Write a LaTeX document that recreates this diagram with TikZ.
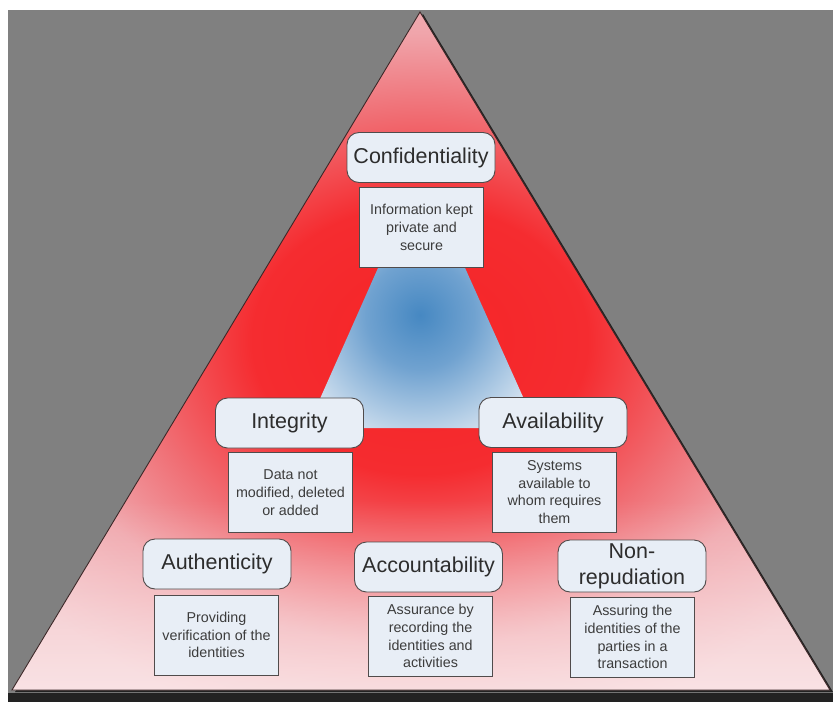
\documentclass[tikz,border=0pt]{standalone}
\usepackage{fontspec}
\setmainfont{Liberation Sans}
\usetikzlibrary{fadings}

\definecolor{bggray}{RGB}{128,128,128}
\definecolor{banddark}{RGB}{34,34,34}
\definecolor{edgedark}{RGB}{60,40,40}
\definecolor{boxfill}{RGB}{232,238,246}
\definecolor{boxline}{RGB}{80,75,75}
\definecolor{titletext}{RGB}{45,45,45}
\definecolor{desctext}{RGB}{60,60,60}
% stops of the red burst around the core
\definecolor{redA}{RGB}{246,36,38}
\definecolor{redB}{RGB}{245,44,48}
\definecolor{redC}{RGB}{240,112,118}
\definecolor{redD}{RGB}{240,165,171}
\definecolor{redE}{RGB}{242,188,193}
% stops of the blue core
\definecolor{bluA}{RGB}{70,136,194}
\definecolor{bluB}{RGB}{112,162,208}
\definecolor{bluC}{RGB}{180,206,230}
\definecolor{bluD}{RGB}{226,234,243}

% the shaded box maps -25bp..25bp onto the filled rectangle
\pgfdeclareradialshading{redburst}{\pgfpoint{0bp}{0bp}}{color(0bp)=(redA); color(7bp)=(redB); color(12bp)=(redC); color(16bp)=(redD); color(21bp)=(redE); color(50bp)=(redE)}
\pgfdeclareradialshading{blueburst}{\pgfpoint{0bp}{0bp}}{color(0bp)=(bluA); color(4.5bp)=(bluB); color(9bp)=(bluC); color(12bp)=(bluD); color(50bp)=(bluD)}
\tikzfading[name=fadebottom, top color=transparent!100, bottom color=transparent!0]

\begin{document}
\begin{tikzpicture}[x=1pt,y=-1pt,
  titlebox/.style={draw=boxline, line width=0.9pt, fill=boxfill, rounded corners=12pt,
     minimum width=148pt, minimum height=50pt, inner sep=0pt, align=center,
     text=titletext, font=\fontsize{21.5}{26}\selectfont},
  descbox/.style={draw=boxline, line width=0.8pt, fill=boxfill,
     minimum width=124pt, minimum height=80pt, inner sep=0pt, align=center,
     text=desctext, font=\fontsize{14.3}{17.8}\selectfont}]
\useasboundingbox (0,0) rectangle (833,702);
\fill[white] (0,0) rectangle (833,702);
\fill[bggray] (8,10) rectangle (833,693);
\fill[banddark] (8,693) rectangle (833,702);

% outer pyramid
\coordinate (apex) at (420,12);
\coordinate (bl) at (12,690);
\coordinate (br) at (830,690);
\fill[banddark] ([shift={(3,2)}]apex) -- ([shift={(3,2)}]bl) -- ([shift={(3,2)}]br) -- cycle;
\begin{scope}
  \clip (apex) -- (bl) -- (br) -- cycle;
  \shade[shading=redburst, overlay] (-180,-140) rectangle (1020,820);
  \fill[white, fill opacity=0.78, path fading=fadebottom, overlay] (0,500) rectangle (840,760);
\end{scope}
\draw[edgedark, line width=0.9pt] (apex) -- (bl) -- (br) -- cycle;

% blue core (its top is hidden behind the first description)
\coordinate (itl) at (386,250);
\coordinate (itr) at (457,250);
\coordinate (ibr) at (537,428);
\coordinate (ibl) at (307,428);
\begin{scope}
  \clip (itl) -- (itr) -- (ibr) -- (ibl) -- cycle;
  \shade[shading=blueburst, overlay] (120,15) rectangle (720,615);
\end{scope}

% principles
\node[titlebox] (conf) at (421,157.5) {Confidentiality};
\node[descbox] (confd) at (421.5,227.5) {Information kept\\private and\\secure};

\node[titlebox] (integ) at (289.5,423) {Integrity};
\node[descbox] (integd) at (290.5,492.5) {Data not\\modified, deleted\\or added};

\node[titlebox] (avail) at (553,422.5) {Availability};
\node[descbox] (availd) at (554.5,492) {Systems\\available to\\whom requires\\them};

\node[titlebox] (auth) at (217,564) {Authenticity};
\node[descbox] (authd) at (216.5,635) {Providing\\verification of the\\identities};

\node[titlebox] (acct) at (428.5,567) {Accountability};
\node[descbox] (acctd) at (430.5,636) {Assurance by\\recording the\\identities and\\activities};

\node[titlebox, minimum height=52pt] (nonrep) at (632,566) {Non-\\repudiation};
\node[descbox] (nonrepd) at (632.5,637) {Assuring the\\identities of the\\parties in a\\transaction};
\end{tikzpicture}
\end{document}
